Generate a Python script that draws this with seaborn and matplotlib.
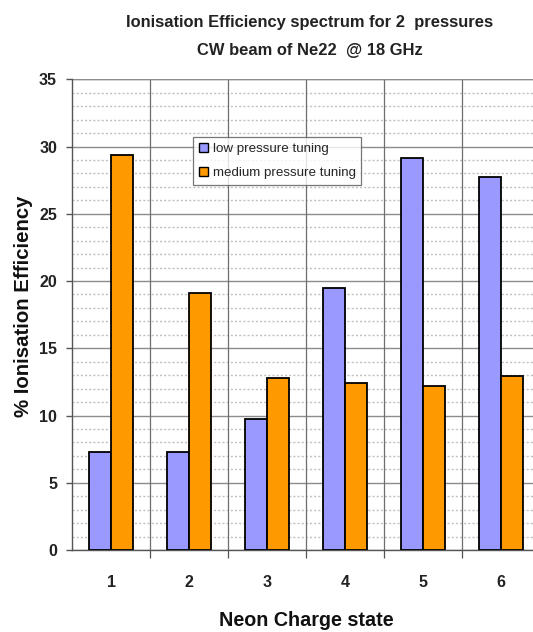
import matplotlib
matplotlib.use("Agg")
import matplotlib.pyplot as plt
import seaborn as sns
import pandas as pd
import numpy as np
from matplotlib.ticker import MultipleLocator, FixedLocator

charge_states = ["1", "2", "3", "4", "5", "6"]
low_pressure = [7.3, 7.3, 9.75, 19.5, 29.15, 27.75]
medium_pressure = [29.4, 19.1, 12.8, 12.4, 12.2, 12.95]
series_names = ["low pressure tuning", "medium pressure tuning"]
y_ticks = [0, 5, 10, 15, 20, 25, 30, 35]

df = pd.DataFrame({
    "state": charge_states * 2,
    "value": low_pressure + medium_pressure,
    "series": [series_names[0]] * 6 + [series_names[1]] * 6,
})

sns.set_theme(style="white")
plt.rcParams['font.family'] = ['Liberation Sans', 'DejaVu Sans']

fig = plt.figure(figsize=(5.33, 6.32), dpi=100)
ax = fig.add_axes([72.3 / 533, (632 - 550) / 632, (540 - 72.3) / 533, (550 - 79.3) / 632])

palette = {series_names[0]: "#9999FF", series_names[1]: "#FF9900"}
sns.barplot(data=df, x="state", y="value", hue="series", palette=palette,
            width=0.57, gap=0, edgecolor="black", linewidth=1.3,
            saturation=1, ax=ax, zorder=3)

ax.set_xlim(-0.5, 5.5)
ax.set_ylim(0, 35)
ax.yaxis.set_major_locator(FixedLocator(y_ticks))
ax.yaxis.set_minor_locator(MultipleLocator(1))
ax.grid(which="major", axis="y", color="#8c8c8c", linewidth=1.0, linestyle="-", zorder=0)
ax.grid(which="minor", axis="y", color="#c0c0c0", linewidth=1.0, linestyle=(0, (1.5, 1.5)), zorder=0)
for b in np.arange(0.5, 5.5, 1.0):
    ax.axvline(b, color="#6e6e6e", linewidth=0.9, zorder=1)
ax.set_axisbelow(True)

for s in ["top", "right"]:
    ax.spines[s].set_visible(False)
ax.axhline(35, color="#8c8c8c", linewidth=1.0, zorder=1)
ax.spines["left"].set_color("#555555")
ax.spines["bottom"].set_color("#555555")
ax.spines["left"].set_linewidth(1.0)
ax.spines["bottom"].set_linewidth(1.0)

ax.tick_params(axis="y", which="major", direction="out", length=4, width=1, color="#555555",
               labelsize=11.5, pad=7, left=True)
ax.tick_params(axis="y", which="minor", length=0)
ax.tick_params(axis="x", which="major", length=0, labelsize=11.5, pad=18, bottom=False)
for lab in ax.get_yticklabels() + ax.get_xticklabels():
    lab.set_fontweight("bold")
    lab.set_color("#222222")
ax.set_xticks(np.arange(0.5, 5.5, 1.0), minor=True)
ax.tick_params(axis="x", which="minor", direction="out", length=6, width=0.9, color="#555555", bottom=True)

ax.set_xlabel("Neon Charge state", fontsize=14.2, fontweight="bold", labelpad=15, color="#111111")
ax.set_ylabel("% Ionisation Efficiency", fontsize=14.7, fontweight="bold", color="#111111")
ax.yaxis.set_label_coords(-0.084, 0.518)

ax.set_title("Ionisation Efficiency spectrum for 2  pressures\nCW beam of Ne22  @ 18 GHz",
             fontsize=11.9, fontweight="bold", color="#222222", linespacing=2.1, pad=17.5, x=0.508)

leg = ax.legend(loc="upper left", bbox_to_anchor=((193.3 - 72.3) / 467.7, (550 - 137.3) / 470.7),
                fontsize=9.6, frameon=True, fancybox=False, edgecolor="#555555",
                handlelength=0.7, handleheight=0.7, handletextpad=0.35, borderpad=0.4,
                labelspacing=0.9, borderaxespad=0)
leg.get_frame().set_linewidth(0.9)
for h in leg.legend_handles:
    h.set_edgecolor("black")
    h.set_linewidth(1.0)

fig.savefig("out.png", dpi=100)
